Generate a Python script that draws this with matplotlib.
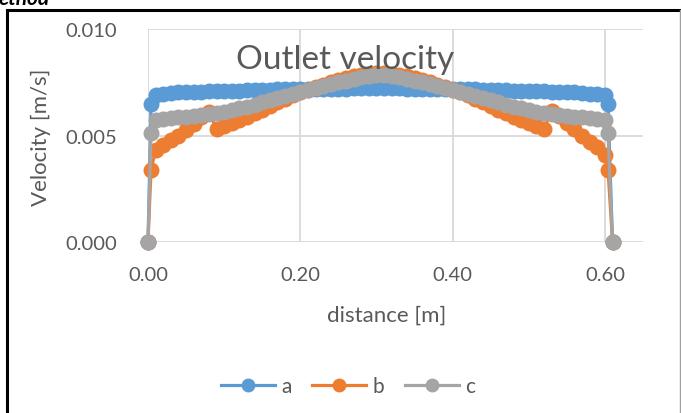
import matplotlib.pyplot as plt
from matplotlib.lines import Line2D

# outlet velocity profiles across the channel width
distance = [0.0, 0.004,
            0.01, 0.02, 0.03, 0.04, 0.05, 0.06, 0.07, 0.08, 0.09, 0.10,
            0.11, 0.12, 0.13, 0.14, 0.15, 0.16, 0.17, 0.18, 0.19, 0.20,
            0.21, 0.22, 0.23, 0.24, 0.25, 0.26, 0.27, 0.28, 0.29, 0.30,
            0.31, 0.32, 0.33, 0.34, 0.35, 0.36, 0.37, 0.38, 0.39, 0.40,
            0.41, 0.42, 0.43, 0.44, 0.45, 0.46, 0.47, 0.48, 0.49, 0.50,
            0.51, 0.52, 0.53, 0.54, 0.55, 0.56, 0.57, 0.58, 0.59, 0.60,
            0.604, 0.61]

vel_a = [0.0, 0.0065,
         0.00690, 0.00697, 0.00700, 0.00702, 0.00704, 0.00705, 0.00706, 0.00707, 0.00708, 0.00709,
         0.00710, 0.00711, 0.00712, 0.00713, 0.00714, 0.00715, 0.00716, 0.00717, 0.00717, 0.00718,
         0.00718, 0.00719, 0.00719, 0.00720, 0.00720, 0.00720, 0.00721, 0.00721, 0.00721, 0.00721,
         0.00721, 0.00721, 0.00721, 0.00720, 0.00720, 0.00720, 0.00719, 0.00719, 0.00718, 0.00718,
         0.00717, 0.00717, 0.00716, 0.00715, 0.00714, 0.00713, 0.00712, 0.00711, 0.00710, 0.00709,
         0.00708, 0.00707, 0.00706, 0.00705, 0.00704, 0.00702, 0.00700, 0.00697, 0.00693, 0.00688,
         0.0065, 0.0]

vel_b = [0.0, 0.0034,
         0.00430, 0.00455, 0.00478, 0.00500, 0.00525, 0.00555, 0.00585, 0.00610, 0.00532, 0.00545,
         0.00558, 0.00572, 0.00588, 0.00605, 0.00622, 0.00640, 0.00657, 0.00673, 0.00688, 0.00702,
         0.00715, 0.00727, 0.00739, 0.00750, 0.00760, 0.00769, 0.00777, 0.00784, 0.00789, 0.00792,
         0.00792, 0.00789, 0.00784, 0.00777, 0.00769, 0.00760, 0.00750, 0.00739, 0.00727, 0.00715,
         0.00702, 0.00688, 0.00673, 0.00657, 0.00640, 0.00622, 0.00605, 0.00588, 0.00572, 0.00558,
         0.00545, 0.00532, 0.00615, 0.00590, 0.00560, 0.00530, 0.00500, 0.00470, 0.00445, 0.00410,
         0.0034, 0.0]

vel_c = [0.0, 0.0051,
         0.00575, 0.00579, 0.00582, 0.00585, 0.00588, 0.00592, 0.00596, 0.00601, 0.00606, 0.00612,
         0.00619, 0.00627, 0.00636, 0.00645, 0.00655, 0.00665, 0.00675, 0.00685, 0.00695, 0.00705,
         0.00714, 0.00723, 0.00732, 0.00741, 0.00750, 0.00758, 0.00766, 0.00773, 0.00779, 0.00783,
         0.00783, 0.00779, 0.00773, 0.00766, 0.00758, 0.00750, 0.00741, 0.00732, 0.00723, 0.00714,
         0.00705, 0.00695, 0.00685, 0.00675, 0.00665, 0.00655, 0.00645, 0.00636, 0.00627, 0.00619,
         0.00612, 0.00606, 0.00601, 0.00596, 0.00592, 0.00588, 0.00585, 0.00582, 0.00579, 0.00575,
         0.0051, 0.0]

series = [("a", vel_a, "#5B9BD5"), ("b", vel_b, "#ED7D31"), ("c", vel_c, "#A5A5A5")]

x_ticks = [0.0, 0.2, 0.4, 0.6]
y_ticks = [0.0, 0.005, 0.010]

TXT = "#595959"
GRID = "#D9D9D9"
plt.rcParams["font.family"] = ["Lato", "DejaVu Sans"]

fig = plt.figure(figsize=(6.81, 4.14), dpi=100)
ax = fig.add_axes([148 / 681, 1 - 243 / 414, (643 - 148) / 681, (243 - 30) / 414])

for name, vals, col in series:
    ax.plot(distance, vals, color=col, lw=2.3, marker="o", ms=11.5,
            markeredgewidth=0, label=name, clip_on=False)

ax.set_xlim(0, 0.65)
ax.set_ylim(0, 0.010)
ax.set_xticks(x_ticks)
ax.set_yticks(y_ticks)
ax.set_xticklabels([f"{v:.2f}" for v in x_ticks])
ax.set_yticklabels([f"{v:.3f}" for v in y_ticks])
ax.tick_params(axis="both", length=0, labelsize=14.5, labelcolor=TXT)
ax.tick_params(axis="y", pad=22)
ax.tick_params(axis="x", pad=17)
ax.grid(True, color=GRID, lw=1.3)
ax.set_axisbelow(True)
for s in ax.spines.values():
    s.set_visible(False)

ax.text(0.259, 0.0086, "Outlet velocity", ha="center", va="center",
        fontsize=24, color=TXT)

fig.text(41 / 681, 1 - 137 / 414, "Velocity [m/s]", rotation=90,
         ha="center", va="center", fontsize=16, color=TXT)
fig.text(387 / 681, 1 - 316 / 414, "distance [m]", ha="center", va="center",
         fontsize=16, color=TXT)

handles = [Line2D([], [], color=c, lw=2.3, marker="o", ms=10, markeredgewidth=0)
           for _, _, c in series]
fig.legend(handles, [n for n, _, _ in series], loc="center",
           bbox_to_anchor=(348 / 681, 1 - 387 / 414), ncol=3, frameon=False,
           fontsize=15, labelcolor=TXT, handlelength=2.6, handletextpad=0.3,
           columnspacing=1.0)

# chart frame and the clipped heading above it
fig.add_artist(Line2D([7 / 681, 680 / 681], [1 - 11 / 414, 1 - 11 / 414],
                      color="black", lw=2.2))
fig.add_artist(Line2D([7 / 681, 7 / 681], [0, 1 - 11 / 414], color="black", lw=2.2))
fig.add_artist(Line2D([680 / 681, 680 / 681], [0, 1 - 11 / 414], color="#A0A0A0", lw=1))
fig.text(-0.002, 1 - 5 / 414, "ethod", fontsize=15, fontweight="bold",
         fontstyle="italic", color="black", ha="left", va="baseline")

fig.savefig("out.png", dpi=100)
